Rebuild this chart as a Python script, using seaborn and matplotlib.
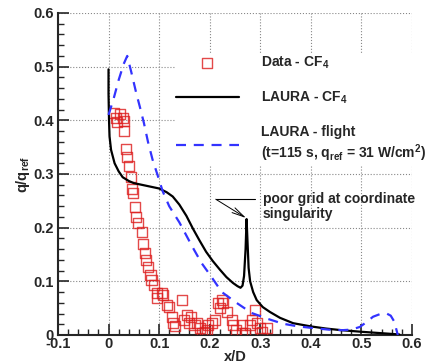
import numpy as np
import pandas as pd
import seaborn as sns
import matplotlib.pyplot as plt
from matplotlib.ticker import MultipleLocator

# LAURA - CF4 (solid black)
cf4_x = [0.0, 0.0, 0.001, 0.002, 0.005, 0.012, 0.02, 0.028, 0.04, 0.05, 0.065, 0.08,
         0.1, 0.115, 0.127, 0.14, 0.154, 0.167, 0.18, 0.193, 0.206, 0.22, 0.233, 0.246,
         0.255, 0.261, 0.265, 0.268, 0.271, 0.273, 0.275, 0.277, 0.28, 0.286, 0.293,
         0.305, 0.319, 0.339, 0.365, 0.4, 0.43, 0.46, 0.5, 0.53, 0.56, 0.575]
cf4_y = [0.495, 0.45, 0.40, 0.37, 0.345, 0.32, 0.305, 0.294, 0.287, 0.283, 0.28, 0.277,
         0.273, 0.266, 0.258, 0.243, 0.222, 0.198, 0.176, 0.155, 0.138, 0.122, 0.108, 0.097,
         0.091, 0.088, 0.092, 0.11, 0.16, 0.216, 0.17, 0.125, 0.1, 0.08, 0.065,
         0.052, 0.043, 0.032, 0.022, 0.016, 0.012, 0.009, 0.006, 0.004, 0.002, 0.001]

# LAURA - flight (dashed blue)
flight_x = [0.0, 0.01, 0.02, 0.03, 0.037, 0.045, 0.055, 0.062, 0.07, 0.078, 0.087, 0.097,
            0.107, 0.12, 0.14, 0.166, 0.184, 0.2, 0.224, 0.253, 0.283, 0.315, 0.345, 0.375,
            0.404, 0.435, 0.463, 0.48, 0.497, 0.51, 0.523, 0.537, 0.55, 0.558, 0.565, 0.572]
flight_y = [0.41, 0.44, 0.475, 0.505, 0.52, 0.49, 0.45, 0.425, 0.395, 0.36, 0.327, 0.298,
            0.268, 0.24, 0.21, 0.164, 0.134, 0.113, 0.08, 0.06, 0.041, 0.03, 0.021, 0.016,
            0.013, 0.01, 0.009, 0.01, 0.015, 0.024, 0.034, 0.039, 0.04, 0.036, 0.025, 0.0]

# Data - CF4 (red squares)
data_x = [0.01, 0.022, 0.014, 0.028, 0.016, 0.03, 0.03, 0.034, 0.036, 0.04, 0.044, 0.046,
          0.048, 0.053, 0.055, 0.058, 0.066, 0.069, 0.073, 0.075, 0.079, 0.083, 0.085,
          0.089, 0.095, 0.105, 0.095, 0.107, 0.115, 0.119, 0.125, 0.127, 0.131, 0.145,
          0.15, 0.156, 0.16, 0.164, 0.17, 0.174, 0.18, 0.184, 0.19, 0.194, 0.196, 0.204,
          0.21, 0.216, 0.224, 0.226, 0.22, 0.234, 0.244, 0.246, 0.253, 0.263, 0.269,
          0.263, 0.279, 0.283, 0.289, 0.293, 0.299, 0.303, 0.313]
data_y = [0.413, 0.412, 0.404, 0.404, 0.397, 0.399, 0.38, 0.346, 0.331, 0.315, 0.294, 0.272,
          0.264, 0.238, 0.22, 0.208, 0.192, 0.17, 0.153, 0.14, 0.127, 0.112, 0.102,
          0.093, 0.078, 0.078, 0.069, 0.074, 0.056, 0.052, 0.034, 0.022, 0.017, 0.065,
          0.028, 0.037, 0.022, 0.034, 0.019, 0.022, 0.013, 0.004, 0.006, 0.009, 0.019, 0.022,
          0.028, 0.06, 0.065, 0.06, 0.05, 0.043, 0.028, 0.019, 0.009, 0.004, 0.004,
          0.019, 0.019, 0.028, 0.047, 0.022, 0.013, 0.006, 0.013]

sns.set_style('ticks')
plt.rcParams['font.family'] = ['Liberation Sans', 'DejaVu Sans']
plt.rcParams['font.weight'] = 'bold'
plt.rcParams['mathtext.default'] = 'regular'

fig = plt.figure(figsize=(4.39, 3.64), dpi=100)
ax = fig.add_axes([0.132, 0.0797, 0.8064, 0.8846])

ax.grid(True, which='major', color='#888888', linestyle=':', linewidth=0.8)
ax.set_axisbelow(True)

sns.scatterplot(x=data_x, y=data_y, ax=ax, marker='s', s=52, facecolor='none',
                edgecolor='#dd1c1c', linewidth=1.0, alpha=0.8,
                label='Data - CF$_4$', zorder=3)
sns.lineplot(x=cf4_x, y=cf4_y, ax=ax, sort=False, estimator=None, color='black',
             linewidth=1.6, label='LAURA - CF$_4$', zorder=4)
sns.lineplot(x=flight_x, y=flight_y, ax=ax, sort=False, estimator=None, color='#3333ff',
             linewidth=1.6, dashes=False, label='LAURA - flight\n(t=115 s, q$_{ref}$ = 31 W/cm$^2$)',
             zorder=4)
ax.lines[-1].set_dashes([4.5, 3.5])

ax.set_xlim(-0.1, 0.6)
ax.set_ylim(0, 0.6)
ax.xaxis.set_minor_locator(MultipleLocator(0.02))
ax.yaxis.set_minor_locator(MultipleLocator(0.02))
ax.set_xticks([-0.1, 0, 0.1, 0.2, 0.3, 0.4, 0.5, 0.6])
ax.set_xticklabels(['-0.1', '0', '0.1', '0.2', '0.3', '0.4', '0.5', '0.6'])
ax.set_yticks([0, 0.1, 0.2, 0.3, 0.4, 0.5, 0.6])
ax.set_yticklabels(['0', '0.1', '0.2', '0.3', '0.4', '0.5', '0.6'])
ax.tick_params(which='major', direction='in', length=8, width=1.2, labelsize=10.5)
ax.tick_params(axis='x', which='major', pad=1.5)
ax.tick_params(axis='y', which='major', pad=3)
ax.tick_params(which='minor', direction='in', length=4.5, width=1.0)
sns.despine(ax=ax)
for s in ['left', 'bottom']:
    ax.spines[s].set_linewidth(1.5)

ax.set_xlabel('x/D', fontsize=10.5, fontweight='bold', labelpad=-1)
ax.set_ylabel('q/q$_{ref}$', fontsize=10.5, fontweight='bold', labelpad=1)

leg = ax.legend(loc='upper left', bbox_to_anchor=(0.33, 0.875), frameon=True,
                facecolor='white', edgecolor='none', framealpha=1, fontsize=10,
                handlelength=4.5, handletextpad=1.6, labelspacing=1.35,
                borderpad=0.1, borderaxespad=0)
leg.set_zorder(5)

# annotation for the spike
ax.plot([0.212, 0.289], [0.253, 0.253], color='black', linewidth=0.8, zorder=4)
ax.annotate('', xy=(0.272, 0.218), xytext=(0.212, 0.253),
            arrowprops=dict(arrowstyle='->,head_length=0.9,head_width=0.2',
                            color='black', linewidth=0.7, shrinkA=0, shrinkB=0))
ax.text(0.305, 0.267, 'poor grid at coordinate\nsingularity', fontsize=10,
        fontweight='bold', va='top', ha='left', linespacing=1.15)

fig.savefig('out.png', dpi=100)
